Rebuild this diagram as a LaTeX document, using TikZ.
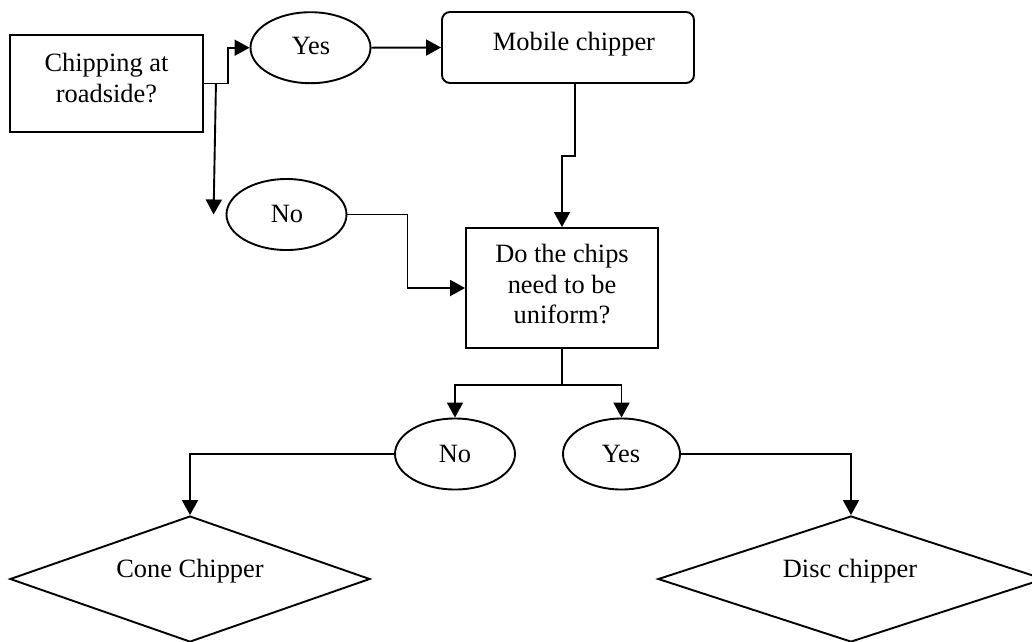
\documentclass[tikz,border=0pt]{standalone}
\usepackage{fontspec}
\setmainfont{Liberation Serif}
\usetikzlibrary{shapes.geometric,arrows.meta}
\begin{document}
\begin{tikzpicture}[x=1pt,y=-1pt,
  every node/.style={font=\fontsize{26.4}{30.5}\selectfont, inner sep=0pt},
  shp/.style={draw, line width=1.9pt},
  boxnode/.style={shp, rectangle},
  oval/.style={shp, ellipse, minimum width=120pt, minimum height=71pt},
  dia/.style={shp, diamond, minimum height=126pt},
  txt/.style={anchor=base, align=center},
  arr/.style={line width=1.9pt, -{Triangle[length=15pt,width=16pt]}}
]
\useasboundingbox (0,0) rectangle (1032,641);
% shapes
\node[boxnode, minimum width=193pt, minimum height=97pt] (q1) at (106.5,83.5) {};
\node[align=center] (q1t) at (106.5,78) {Chipping at\\roadside?};
\node[oval] (yes1) at (310.5,47.7) {};
\node[txt] (yes1t) at (311,54) {Yes};
\node[oval] (no1) at (286.5,214.5) {};
\node[txt] (no1t) at (287,222) {No};
\node[shp, rectangle, rounded corners=8pt, minimum width=252pt, minimum height=71pt] (mob) at (568,47.5) {};
\node[txt] (mobt) at (574,50) {Mobile chipper};
\node[boxnode, minimum width=192pt, minimum height=120pt] (do) at (562,288) {};
\node[align=center] (dot) at (562,284.5) {Do the chips\\need to be\\uniform?};
\node[oval] (no2) at (455,454) {};
\node[txt] (no2t) at (455,462) {No};
\node[oval, minimum width=117pt] (yes2) at (621.5,454) {};
\node[txt] (yes2t) at (621,462) {Yes};
\node[dia, minimum width=360pt] (cone) at (190,579) {};
\node[txt] (conet) at (190,577) {Cone Chipper};
\node[dia, minimum width=386pt] (disc) at (851,579) {};
\node[txt] (disct) at (850,577) {Disc chipper};
% connectors
\draw[arr] (q1.east) -- ++(24,0) |- (yes1.west);
\draw[arr] ([xshift=12pt]q1.east) -- ([xshift=-12pt]no1.west);
\draw[arr] (yes1.east) -- (mob.west);
\draw[arr] ([xshift=7pt]mob.south) -- ++(0,72) -| (do.north);
\draw[arr] (no1.east) -- ++(60,0) |- (do.west);
\draw[arr] (do.south) -- ++(0,36) -| (no2.north);
\draw[arr] (do.south) -- ++(0,36) -| (yes2.north);
\draw[arr] (no2.west) -| (cone.north);
\draw[arr] (yes2.east) -| (disc.north);
\end{tikzpicture}
\end{document}
